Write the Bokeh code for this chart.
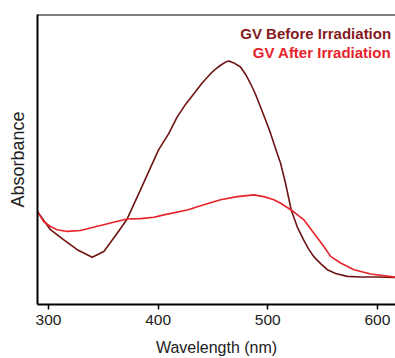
from bokeh.plotting import figure
from bokeh.models import Range1d, FixedTicker, Span, Label
from bokeh.embed import file_html
from bokeh.resources import INLINE

# Wavelength (nm) and relative absorbance
wl_before = [290.0, 301.8, 314.0, 326.2, 339.9, 350.5, 362.7, 371.8, 383.9, 400.4,
             409.8, 417.4, 425.0, 432.6, 440.2, 447.8, 452.4, 456.9, 461.5, 464.5,
             469.1, 475.2, 479.7, 484.3, 488.9, 493.4, 498.0, 502.6, 507.1, 511.7,
             516.2, 521.4, 527.2, 532.7, 537.2, 541.8, 548.2, 554.3, 561.9, 572.5,
             584.7, 598.4, 616.6]
abs_before = [0.320, 0.258, 0.223, 0.189, 0.163, 0.183, 0.246, 0.295, 0.395, 0.533,
              0.590, 0.647, 0.690, 0.727, 0.764, 0.796, 0.812, 0.825, 0.836, 0.840,
              0.833, 0.819, 0.794, 0.762, 0.724, 0.681, 0.636, 0.590, 0.538, 0.487,
              0.418, 0.326, 0.265, 0.223, 0.192, 0.166, 0.141, 0.120, 0.107, 0.097,
              0.095, 0.095, 0.093]

wl_after = [290.0, 295.7, 301.8, 307.9, 317.1, 329.2, 338.3, 356.6, 371.8, 383.9,
            396.1, 405.2, 426.6, 441.7, 456.9, 472.2, 487.3, 496.4, 505.6, 511.7,
            521.4, 532.9, 542.1, 551.2, 557.3, 566.4, 578.6, 593.8, 616.6]
abs_after = [0.320, 0.286, 0.269, 0.258, 0.252, 0.255, 0.264, 0.281, 0.295, 0.296,
             0.301, 0.309, 0.326, 0.344, 0.361, 0.372, 0.378, 0.372, 0.361, 0.349,
             0.326, 0.292, 0.246, 0.200, 0.166, 0.143, 0.120, 0.105, 0.094]

x_ticks = [300, 400, 500, 600]
series_names = ["GV Before Irradiation", "GV After Irradiation"]

FONT = "Liberation Sans"
C_BEFORE = "#6e1414"
C_BEFORE_TXT = "#851a1e"
C_AFTER = "#e8222a"

p = figure(width=395, height=358, output_backend="svg", toolbar_location=None,
           x_range=Range1d(290, 616.5), y_range=Range1d(0, 1),
           min_border_left=37, min_border_right=0, min_border_top=14, min_border_bottom=53)
p.outline_line_color = None
p.grid.visible = False
p.background_fill_color = "white"
p.border_fill_color = "white"

p.line(wl_before, abs_before, line_color=C_BEFORE, line_width=1.6, line_join="round")
p.line(wl_after, abs_after, line_color=C_AFTER, line_width=1.6, line_join="round")

# top frame edge
p.add_layout(Span(location=1.0, dimension="width", line_color="black", line_width=2))

xa = p.xaxis[0]
xa.ticker = FixedTicker(ticks=x_ticks)
xa.axis_line_width = 2
xa.major_tick_line_width = 1.5
xa.major_tick_out = 5
xa.major_tick_in = 0
xa.minor_tick_line_color = None
xa.major_label_text_font = FONT
xa.major_label_text_font_size = "15.5px"
xa.major_label_text_color = "#222222"
xa.major_label_standoff = 5
xa.axis_label = "Wavelength (nm)"
xa.axis_label_text_font = FONT
xa.axis_label_text_font_size = "16px"
xa.axis_label_text_font_style = "normal"
xa.axis_label_text_color = "#222222"
xa.axis_label_standoff = 11

ya = p.yaxis[0]
ya.ticker = FixedTicker(ticks=[])
ya.axis_line_width = 2
ya.major_tick_line_color = None
ya.minor_tick_line_color = None
ya.major_label_text_font_size = "0px"
ya.axis_label = "Absorbance"
ya.axis_label_text_font = FONT
ya.axis_label_text_font_size = "18px"
ya.axis_label_text_font_style = "normal"
ya.axis_label_text_color = "#222222"
ya.axis_label_standoff = 10

p.add_layout(Label(x=612.5, y=0.935, text=series_names[0],
                   text_align="right", text_baseline="alphabetic",
                   text_font=FONT, text_font_size="15px", text_font_style="bold",
                   text_color=C_BEFORE_TXT))
p.add_layout(Label(x=612.5, y=0.868, text=series_names[1],
                   text_align="right", text_baseline="alphabetic",
                   text_font=FONT, text_font_size="15px", text_font_style="bold",
                   text_color=C_AFTER))

open("out.html", "w").write(file_html(p, INLINE))
